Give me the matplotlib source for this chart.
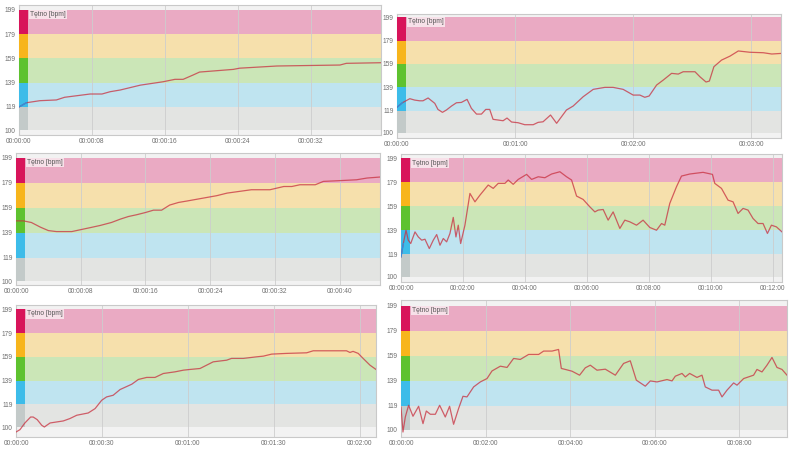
import numpy as np
import matplotlib
matplotlib.use("Agg")
import matplotlib.pyplot as plt

plt.rcParams['font.family'] = ['Liberation Sans', 'DejaVu Sans']

# heart rate zones (bpm) and colours, bottom to top
zone_edges = [100, 119, 139, 159, 179, 199]
zone_colors = ['#e3e4e2', '#bfe4f0', '#cbe6b7', '#f6e0ac', '#eaaac3']
strip_colors = ['#c3cac9', '#3dbce9', '#5ec22f', '#f7b51c', '#d8145a']
ytick_vals = [100, 119, 139, 159, 179, 199]

# panel 1 (top left), seconds / bpm
p1_t = [0, 0.8, 2.3, 4.1, 5.0, 7.8, 9.1, 10.0, 11.1, 13.3, 15.8, 17.1, 18.0, 19.1, 19.8,
        23.5, 24.2, 28.3, 35.2, 35.9, 39.7]
p1_hr = [119, 122.5, 124.2, 124.8, 127, 129.7, 129.7, 131.6, 133, 137, 139.8, 141.8, 141.8,
         145.4, 147.8, 150, 151, 152.8, 153.6, 155, 155.5]

# panel 2 (top right)
p2_t = [0, 2.7, 6.5, 9.0, 11.5, 13.2, 15.8, 19.2, 20.8, 23.1,
        25.1, 27.7, 30.2, 32.7, 35.6, 37.8, 40.4, 42.9, 45.1, 47.1,
        48.8, 51.4, 53.9, 55.9, 58.2, 61.5, 64.9, 69.2, 71.7, 74.2,
        78.0, 81.1, 86.1, 89.5, 94.6, 99.7,
        101.4, 105.6, 109.8, 114.9, 120.0, 123.4, 125.9, 128.1, 131.9, 135.3,
        139.5, 142.9, 145.4, 151.4, 153.9, 157.0, 158.7, 161.0, 164.9, 169.2,
        173.4, 179.3, 186.1, 190.4, 195.1]
p2_hr = [121.8, 125.7, 129.2, 128, 127.4, 127.4, 129.8, 125.2, 120, 117.5,
         119.5, 122.9, 125.7, 126, 128.6, 120.9, 116, 116, 120, 120,
         111.5, 110.9, 110.3, 112.6, 109.2, 108.6, 106.9, 106.9, 108.9, 109.4,
         115.2, 108.1, 119.5, 122.9, 130.9, 137.2,
         137.7, 138.9, 138.9, 137.2, 132.3, 132.3, 130.4, 131.5, 140.9, 145.2,
         150.9, 150.3, 152.3, 152.3, 148, 143.5, 144.3, 156.6, 162.3, 165.7,
         170.1, 169, 168.6, 167.5, 168]

# panel 3 (middle left)
p3_t = [0, 0.9, 1.9, 3.0, 4.0, 5.0, 6.9, 7.9, 9.2, 10.4, 11.8, 12.9, 13.9, 14.9, 16.0,
        17.0, 18.0, 19.0, 20.1, 21.1, 24.8, 26.1, 29.1, 31.4, 33.1, 34.1, 35.1, 37.0,
        38.0, 39.7, 42.1, 43.4, 45.0]
p3_hr = [148.5, 148.5, 147.2, 143.5, 140.7, 139.9, 139.9, 141.3, 143.1, 144.8, 147.2,
         149.9, 152, 153.4, 155.2, 157.1, 157.1, 161.2, 163.3, 164.4, 168.7, 170.8,
         173.5, 173.5, 176.1, 176.1, 177.5, 177.5, 180.2, 180.7, 181.5, 182.9, 183.7]

# panel 4 (middle right)
p4_t = [0, 4.5, 9.7, 14.1, 18.8, 27.1, 33.5, 40.1, 46.4, 54.8,
        62.5, 69.1, 75.5, 81.9, 88.4, 94.8, 101.2, 106.4, 110.9, 115.5,
        123.8, 133.5, 143.2, 152.9, 168.9, 178.6, 188.3, 201.2, 207.6, 217.3,
        227.0, 243.2, 252.9, 265.7, 278.6, 291.6, 307.7, 320.6, 330.3, 340.0,
        352.7, 365.7, 375.4, 381.8, 391.5, 401.1, 410.8, 423.8, 433.4, 443.1,
        456.1, 468.8, 481.8, 494.8, 504.5, 510.8, 520.5, 533.5, 543.2, 559.2,
        584.9, 603.1, 607.6, 620.6, 633.3, 643.0, 652.7, 662.4, 672.0, 681.7,
        691.4, 701.1, 709.6, 717.3, 727.0, 737.8]
p4_hr = [116.7, 127.9, 139, 130.7, 127.9, 137.6, 133.4, 130.7, 131.5, 123.7,
         130.7, 135.4, 126.5, 132.1, 129.3, 136.3, 149.7, 133.4, 143.2, 127.9,
         143.2, 169.7, 162.7, 168.3, 176.7, 173.9, 178.1, 178.1, 180.9, 177.3,
         181.4, 185.6, 181.4, 183.6, 182.8, 185.9, 187.8, 183.6, 180.9, 167.5,
         164.7, 158.5, 154.3, 155.8, 156.3, 147.4, 154.3, 140.5, 147.4, 146,
         143.2, 147.4, 141.3, 139, 144.6, 143.2, 161.4, 175.3, 184.2, 185.9,
         187.3, 185.6, 178.1, 173.9, 164.1, 162.7, 153, 157.2, 155.8, 148.8,
         144.6, 144.6, 136.3, 143.2, 141.8, 137.6]

# panel 5 (bottom left)
p5_t = [0, 1.4, 3.1, 5.1, 6.0, 7.4, 9.0, 9.9, 10.7, 11.9,
        16.5, 18.8, 21.2, 25.2, 27.6, 29.9, 31.6, 33.9, 36.3, 40.4,
        42.7, 45.6, 48.5, 51.4, 55.5, 58.4, 60.7, 64.2, 68.8, 73.5,
        75.2, 79.3, 83.9, 86.3, 89.2, 94.4, 101.4, 103.7, 110.7, 115.3,
        116.5, 117.6, 119.4, 121.1, 123.5, 125.6]
p5_hr = [95.8, 97.8, 103.4, 108.4, 108.4, 106.2, 101.4, 100, 101.4, 103.4,
         105.1, 107.1, 109.9, 111.8, 115.5, 122.5, 125.3, 126.7, 131.5, 136,
         140, 141.7, 141.7, 145, 146.4, 147.8, 148.4, 149.2, 154.8, 156.2,
         157.7, 157.7, 159, 159.6, 161.3, 161.9, 162.4, 164.1, 164.1, 164.1,
         162.7, 163.6, 161.9, 157.7, 152, 148.4]

# panel 6 (bottom right)
p6_t = [0, 2.8, 6.1, 10.8, 17.0, 25.0, 31.2, 35.9, 41.6, 48.7,
        54.8, 62.8, 68.9, 74.6, 81.7, 87.9, 93.6, 103.0, 112.5, 122.0,
        129.1, 140.9, 150.4, 159.7, 169.2, 181.0, 195.2, 202.3, 214.2, 223.5,
        227.4, 233.1, 242.5, 253.3, 261.4, 268.5, 278.0, 289.8, 304.0, 315.7,
        325.2, 333.8, 346.5, 353.6, 363.1, 377.3, 384.4, 389.1, 398.6, 403.3,
        409.4, 419.8, 426.9, 431.6, 441.1, 450.5, 455.3, 462.4, 471.8, 476.6,
        486.0, 500.1, 504.9, 512.0, 519.1, 526.2, 533.3, 540.4, 547.5]
p6_hr = [118.1, 98.1, 110.1, 119.5, 110.7, 118.7, 104.8, 114.9, 112.3, 112.3,
         119.5, 110.1, 118.7, 104.3, 116.9, 126.7, 126.2, 134.2, 138.2, 140.9,
         147, 150.8, 149.8, 157, 156.2, 160.2, 160.2, 162.9, 162.9, 164.2,
         149, 148.2, 146.8, 143.6, 149.5, 151.6, 147.6, 148.4, 143.6, 153,
         155.1, 139.6, 134.8, 139, 138.2, 140.1, 139, 142.8, 145, 142.2,
         145, 141.8, 143.6, 134.2, 131.6, 131.6, 126.2, 131.6, 137.4, 135.6,
         140.9, 143.6, 148.2, 146.2, 151.6, 157.8, 149.8, 148.2, 143.6]

series = [(p1_t, p1_hr), (p2_t, p2_hr), (p3_t, p3_hr),
          (p4_t, p4_hr), (p5_t, p5_hr), (p6_t, p6_hr)]

# layout in pixels: left, right, top, bottom, ymin, ymax, xmax, tick step, blue start
W, H = 794, 457
layout = [
    (19, 381, 5, 135, 95.9, 203.1, 39.7, 8, True),
    (397, 781, 14, 138, 95.5, 201.8, 195.1, 60, True),
    (16, 380, 153, 285, 97.0, 203.0, 45.0, 8, False),
    (401, 782, 154, 282, 95.8, 202.6, 737.8, 120, True),
    (16, 376, 305, 437, 91.6, 202.6, 125.6, 30, False),
    (401, 787, 300, 437, 94.1, 203.8, 547.5, 120, False),
]


def hms(s):
    s = int(round(s))
    return "%02d:%02d:%02d" % (s // 3600, s % 3600 // 60, s % 60)


fig = plt.figure(figsize=(W / 100, H / 100), dpi=100)

for (t, hr), (xl, xr, yt, yb, ylo, yhi, xmax, step, blue) in zip(series, layout):
    ax = fig.add_axes([xl / W, 1 - yb / H, (xr - xl) / W, (yb - yt) / H])
    ax.set_facecolor('#f2f2f2')
    wf = 9.0 / (xr - xl)
    for i in range(5):
        ax.axhspan(zone_edges[i], zone_edges[i + 1], color=zone_colors[i], lw=0, zorder=1)
        ax.axhspan(zone_edges[i], zone_edges[i + 1], xmin=0, xmax=wf,
                   color=strip_colors[i], lw=0, zorder=3)
    ticks = np.arange(0, xmax + 0.01, step)
    for tk in ticks[1:]:
        ax.axvline(tk, color='#cdcdcd', lw=0.6, zorder=2)
    ax.plot(t, hr, color='#c8303f', alpha=0.75, lw=0.9, zorder=4)
    if blue:
        ax.plot(t[:2], hr[:2], color='#2f8fe0', lw=0.9, zorder=5)
    ax.set_xlim(0, xmax)
    ax.set_ylim(ylo, yhi)
    ax.set_xticks(ticks)
    ax.set_xticklabels([hms(v) for v in ticks])
    ax.set_yticks(ytick_vals)
    ax.tick_params(length=0, labelsize=4.8, colors='#707070', pad=2.5)
    for sp in ax.spines.values():
        sp.set_color('#c9c9c9')
        sp.set_linewidth(0.8)
    ax.text(wf + 0.006, 198, 'Tętno [bpm]', transform=ax.get_yaxis_transform(),
            va='top', ha='left', fontsize=4.8, color='#555555', zorder=6,
            bbox=dict(facecolor='white', alpha=0.65, edgecolor='none', pad=0.8))

fig.savefig('out.png', dpi=100, facecolor='white')
